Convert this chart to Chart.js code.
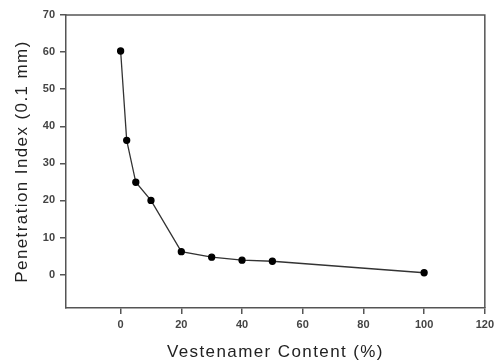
<!DOCTYPE html>
<html>
<head>
<meta charset="utf-8">
<script src="https://cdn.jsdelivr.net/npm/chart.js@4"></script>
<style>
  body { margin: 0; background: #fff; }
</style>
</head>
<body>
<canvas id="piChart" width="498" height="363"></canvas>
<script>
// data
const vestenamerContent = [0, 2, 5, 10, 20, 30, 40, 50, 100];
const penetrationIndex = [60.3, 36.2, 24.9, 20.0, 6.2, 4.7, 3.9, 3.6, 0.5];
const xTicks = [0, 20, 40, 60, 80, 100, 120];
const yTicks = [0, 10, 20, 30, 40, 50, 60, 70];

const axisGray = '#555';
const tickFont = { family: "'Liberation Sans', Arial, sans-serif", size: 11, weight: 'bold' };
const titleFont = { family: "'Liberation Sans', Arial, sans-serif", size: 17 };

// top and right sides of the box, plus wider spacing on the axis titles
const frame = {
    id: 'frame',
    beforeDraw(chart) {
        Object.values(chart.scales).forEach(scale => {
            if (scale._spaced) return;
            const orig = scale.drawTitle;
            scale.drawTitle = function () {
                const ctx = this.ctx;
                ctx.save();
                ctx.letterSpacing = '1.4px';
                orig.apply(this, arguments);
                ctx.restore();
            };
            scale._spaced = true;
        });
    },
    afterDraw(chart) {
        const a = chart.chartArea;
        const ctx = chart.ctx;
        ctx.save();
        ctx.strokeStyle = axisGray;
        ctx.lineWidth = 1.5;
        ctx.beginPath();
        ctx.moveTo(a.left, a.top);
        ctx.lineTo(a.right, a.top);
        ctx.lineTo(a.right, a.bottom);
        ctx.stroke();
        ctx.restore();
    }
};

const points = vestenamerContent.map((x, i) => ({ x: x, y: penetrationIndex[i] }));

new Chart(document.getElementById('piChart'), {
    type: 'line',
    data: {
        datasets: [{
            data: points,
            borderColor: '#333',
            borderWidth: 1.3,
            backgroundColor: '#000',
            pointBackgroundColor: '#000',
            pointBorderColor: '#000',
            pointRadius: 3,
            pointStyle: 'circle',
            tension: 0,
            fill: false
        }]
    },
    options: {
        responsive: false,
        animation: false,
        layout: { padding: { left: 0, top: 15, right: 10, bottom: 0 } },
        plugins: {
            legend: { display: false },
            tooltip: { enabled: false }
        },
        scales: {
            x: {
                type: 'linear',
                min: -18,
                max: 120,
                afterBuildTicks: (scale) => { scale.ticks = xTicks.map(v => ({ value: v })); },
                afterFit: (scale) => { scale.height = 55; },
                ticks: { font: tickFont, color: '#444', padding: 4, maxRotation: 0 },
                grid: { drawOnChartArea: false, tickLength: 6, color: axisGray, lineWidth: 1.5 },
                border: { color: axisGray, width: 1.5 },
                title: {
                    display: true,
                    text: 'Vestenamer Content (%)',
                    font: titleFont,
                    color: '#222',
                    padding: { top: 3, bottom: 0 }
                }
            },
            y: {
                min: -9,
                max: 70,
                afterBuildTicks: (scale) => { scale.ticks = yTicks.map(v => ({ value: v })); },
                afterFit: (scale) => { scale.width = 66; },
                ticks: { font: tickFont, color: '#444', padding: 5 },
                grid: { drawOnChartArea: false, tickLength: 6, color: axisGray, lineWidth: 1.5 },
                border: { color: axisGray, width: 1.5 },
                title: {
                    display: true,
                    text: 'Penetration Index (0.1 mm)',
                    font: titleFont,
                    color: '#222',
                    padding: { top: 12, bottom: 0 }
                }
            }
        }
    },
    plugins: [frame]
});
</script>
</body>
</html>
